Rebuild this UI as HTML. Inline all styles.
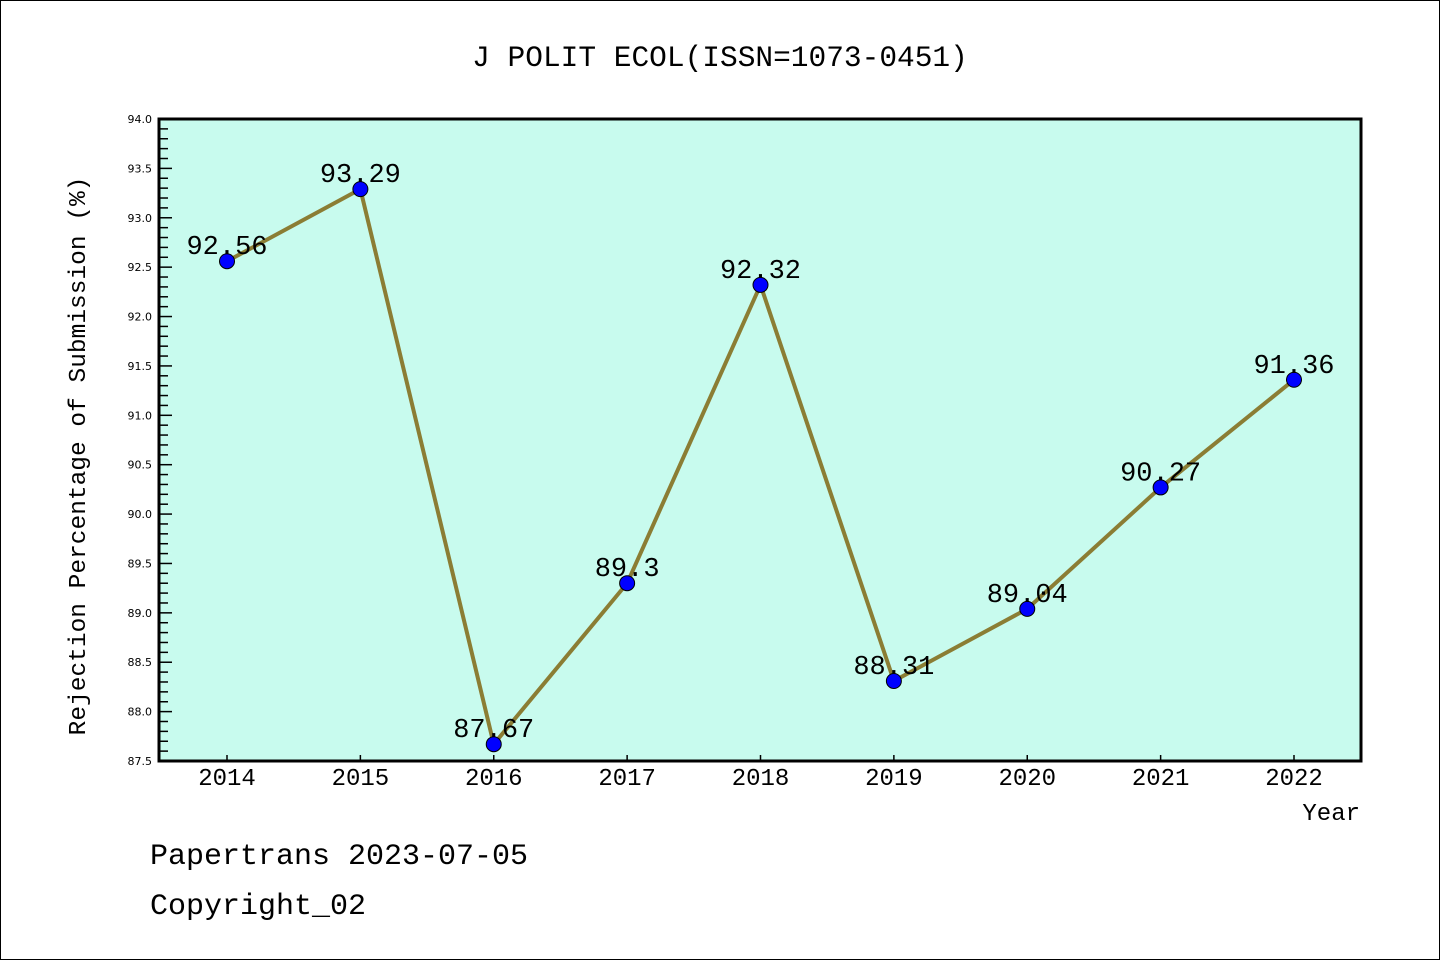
<!DOCTYPE html>
<html><head><meta charset="utf-8"><style>
body{margin:0;background:#fff}
svg{display:block;font-family:"Liberation Mono","WenQuanYi Zen Hei",monospace}
</style></head><body>
<svg width="1440" height="960">
<rect x="0.5" y="0.5" width="1439" height="959" fill="#fff" stroke="#000"/>
<text x="720" y="66" font-size="29.5" text-anchor="middle">J POLIT ECOL(ISSN=1073-0451)</text>
<rect x="159" y="119" width="1202" height="642" fill="#c8fbee"/>
<g id="yaxis"></g>
<g id="xaxis"></g>
<g id="series"></g>
<rect x="159" y="119" width="1202" height="642" fill="none" stroke="#000" stroke-width="3"/>
<text x="85" y="456" font-size="24.5" text-anchor="middle" transform="rotate(-90 85 456)">Rejection Percentage of Submission (%)</text>
<text x="1360" y="820" font-size="24" text-anchor="end">Year</text>
<text x="150" y="864" font-size="30">Papertrans 2023-07-05</text>
<text x="150" y="914" font-size="30">Copyright_02</text>
</svg>
<script>
const categories=[2014,2015,2016,2017,2018,2019,2020,2021,2022];
const values=[92.56,93.29,87.67,89.3,92.32,88.31,89.04,90.27,91.36];
const valueLabels=["92.56","93.29","87.67","89.3","92.32","88.31","89.04","90.27","91.36"];
const yTicks=["87.5","88.0","88.5","89.0","89.5","90.0","90.5","91.0","91.5","92.0","92.5","93.0","93.5","94.0"];
(function(){
const NS="http://www.w3.org/2000/svg";
const yMin=87.5,yMax=94.0,pTop=119,pBot=761,pLeft=159;
const y=v=>pBot-(v-yMin)/(yMax-yMin)*(pBot-pTop);
const x=i=>227+i*(1294-227)/(categories.length-1);
function mk(t,a,p){const e=document.createElementNS(NS,t);for(const k in a)e.setAttribute(k,a[k]);p.appendChild(e);return e;}
const ya=document.getElementById('yaxis'),xa=document.getElementById('xaxis'),sg=document.getElementById('series');
for(let k=0;k<=65;k++){const v=yMin+k*0.1;const major=k%5===0;
 const l=mk('line',{x1:pLeft,x2:pLeft+(major?13:9),y1:y(v),y2:y(v),stroke:'#000','stroke-width':1.5},ya);
 
 }
yTicks.forEach(t=>{const e=mk('text',{x:152,y:y(parseFloat(t))+4,'font-size':11,'text-anchor':'end','font-family':'"DejaVu Sans",sans-serif'},ya);e.textContent=t;
 
 });
categories.forEach((c,i)=>{const l=mk('line',{x1:x(i),x2:x(i),y1:pBot,y2:pBot-6,stroke:'#000','stroke-width':1.5},xa);
 
 
 const e=mk('text',{x:x(i),y:785,'font-size':24,'text-anchor':'middle'},xa);e.textContent=c;
 
 });
const pl=mk('polyline',{points:values.map((v,i)=>x(i)+','+y(v)).join(' '),fill:'none',stroke:'#8b7d34','stroke-width':4},sg);


values.forEach((v,i)=>{const c=mk('circle',{cx:x(i),cy:y(v),r:7.5,fill:'#0000ff',stroke:'#000','stroke-width':1},sg);
 
 
 const t=mk('text',{x:x(i),y:y(v)-7,'font-size':27,'text-anchor':'middle'},sg);t.textContent=valueLabels[i];
 
 });
})();
</script>
</body></html>
